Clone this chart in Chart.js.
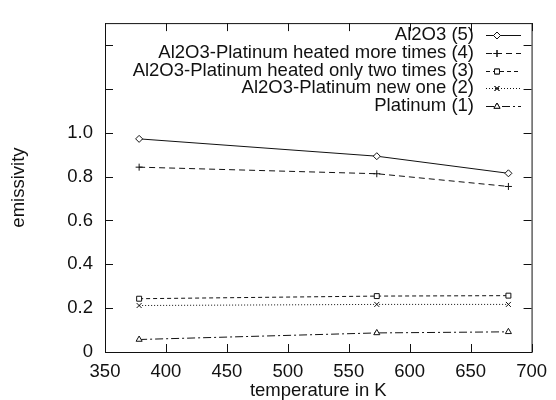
<!DOCTYPE html>
<html>
<head>
<meta charset="utf-8">
<script src="https://cdn.jsdelivr.net/npm/chart.js@4"></script>
<style>
  html, body { margin: 0; padding: 0; background: #fff; }
  #wrap { width: 556px; height: 400px; position: relative; }
</style>
</head>
<body>
<div id="wrap"><canvas id="emisChart"></canvas></div>
<script>
// temperatures (K) for each measurement
const temperatures = [378, 573, 681];

// emissivity for each sample
const al2o3 = [0.972, 0.893, 0.815];
const ptHeatedMore = [0.843, 0.813, 0.755];
const ptHeatedTwo = [0.243, 0.255, 0.257];
const ptNewOne = [0.212, 0.217, 0.217];
const platinum = [0.057, 0.087, 0.092];

const seriesLabels = [
    'Al2O3 (5)',
    'Al2O3-Platinum heated more times (4)',
    'Al2O3-Platinum heated only two times (3)',
    'Al2O3-Platinum new one (2)',
    'Platinum (1)'
];

const xTicks = [350, 400, 450, 500, 550, 600, 650, 700];
const yTicks = [0, 0.2, 0.4, 0.6, 0.8, 1.0, 1.2, 1.4];
const yLabelled = [0, 0.2, 0.4, 0.6, 0.8, 1.0];

const FONT = '"Liberation Sans", Arial, Helvetica, sans-serif';
const FSIZE = 18.5;
const INK = '#111';

function toPoints(vals) {
    return vals.map((v, i) => ({ x: temperatures[i], y: v }));
}

const styles = [
    { pt: 'rectRot', dash: [] },
    { pt: 'cross', dash: [6, 4] },
    { pt: 'rect', dash: [4, 3] },
    { pt: 'crossRot', dash: [1, 2] },
    { pt: 'triangle', dash: [8, 3, 2, 3] }
];
const values = [al2o3, ptHeatedMore, ptHeatedTwo, ptNewOne, platinum];

const datasets = values.map((v, i) => ({
    label: seriesLabels[i],
    data: toPoints(v),
    borderColor: INK,
    borderWidth: 1,
    borderDash: styles[i].dash,
    pointStyle: styles[i].pt,
    pointRadius: 3.5,
    pointBorderColor: INK,
    pointBackgroundColor: '#fff',
    pointBorderWidth: 1,
    fill: false,
    tension: 0
}));

// frame, inward ticks on all four sides, and the gnuplot-style key
const framePlugin = {
    id: 'frame',
    afterDraw(chart) {
        const { ctx, chartArea: a, scales } = chart;
        ctx.save();
        ctx.strokeStyle = INK;
        ctx.lineWidth = 1;
        ctx.setLineDash([]);
        ctx.strokeRect(a.left + 0.5, a.top + 0.5, a.right - a.left, a.bottom - a.top);
        const len = 8;
        ctx.beginPath();
        xTicks.forEach(t => {
            const x = Math.round(scales.x.getPixelForValue(t)) + 0.5;
            ctx.moveTo(x, a.bottom); ctx.lineTo(x, a.bottom - len);
            ctx.moveTo(x, a.top); ctx.lineTo(x, a.top + len);
        });
        yTicks.forEach(t => {
            const y = Math.round(scales.y.getPixelForValue(t)) + 0.5;
            ctx.moveTo(a.left, y); ctx.lineTo(a.left + len, y);
            ctx.moveTo(a.right, y); ctx.lineTo(a.right - len, y);
        });
        ctx.stroke();

        // key
        ctx.font = FSIZE + 'px ' + FONT;
        ctx.fillStyle = INK;
        ctx.textAlign = 'right';
        ctx.textBaseline = 'middle';
        const textRight = 474, lineL = 486, lineR = 521, markX = 497;
        chart.data.datasets.forEach((ds, i) => {
            const y = Math.round(35 + i * 17.8);
            ctx.fillText(ds.label, textRight, y);
            ctx.beginPath();
            ctx.setLineDash(ds.borderDash);
            ctx.moveTo(lineL, y + 0.5);
            ctx.lineTo(lineR, y + 0.5);
            ctx.stroke();
            ctx.setLineDash([]);
            Chart.helpers.drawPoint(ctx, {
                pointStyle: ds.pointStyle, radius: 3.5, rotation: 0, borderWidth: 1
            }, markX, y + 0.5);
            ctx.fillStyle = '#fff';
            ctx.fill();
            ctx.stroke();
            ctx.fillStyle = INK;
        });
        ctx.restore();
    }
};

const ctx = document.getElementById('emisChart').getContext('2d');
new Chart(ctx, {
    type: 'line',
    data: { datasets: datasets },
    options: {
        responsive: true,
        maintainAspectRatio: false,
        animation: false,
        layout: { padding: { top: 8, right: 18, left: 0, bottom: 0 } },
        plugins: {
            legend: { display: false },
            tooltip: { enabled: false }
        },
        scales: {
            x: {
                type: 'linear',
                min: 350,
                max: 700,
                afterBuildTicks: s => { s.ticks = xTicks.map(v => ({ value: v })); },
                afterFit: s => { s.height = 48; },
                grid: { display: false, drawTicks: false },
                border: { display: false },
                ticks: {
                    padding: 9,
                    color: INK,
                    font: { family: FONT, size: FSIZE },
                    maxRotation: 0,
                    autoSkip: false,
                    callback: v => String(v)
                },
                title: {
                    display: true,
                    text: 'temperature in K',
                    color: INK,
                    font: { family: FONT, size: FSIZE },
                    padding: { top: -4, bottom: -2 }
                }
            },
            y: {
                min: 0,
                max: 1.5,
                afterBuildTicks: s => { s.ticks = yTicks.map(v => ({ value: v })); },
                afterFit: s => { s.width = 105; },
                grid: { display: false, drawTicks: false },
                border: { display: false },
                ticks: {
                    padding: 12,
                    color: INK,
                    font: { family: FONT, size: FSIZE },
                    autoSkip: false,
                    callback: v => {
                        if (!yLabelled.some(t => Math.abs(t - v) < 1e-6)) return '';
                        return v === 0 ? '0' : v.toFixed(1);
                    }
                },
                title: {
                    display: true,
                    text: 'emissivity',
                    color: INK,
                    font: { family: FONT, size: FSIZE },
                    padding: { top: 8, bottom: 0 }
                }
            }
        }
    },
    plugins: [framePlugin]
});
</script>
</body>
</html>
